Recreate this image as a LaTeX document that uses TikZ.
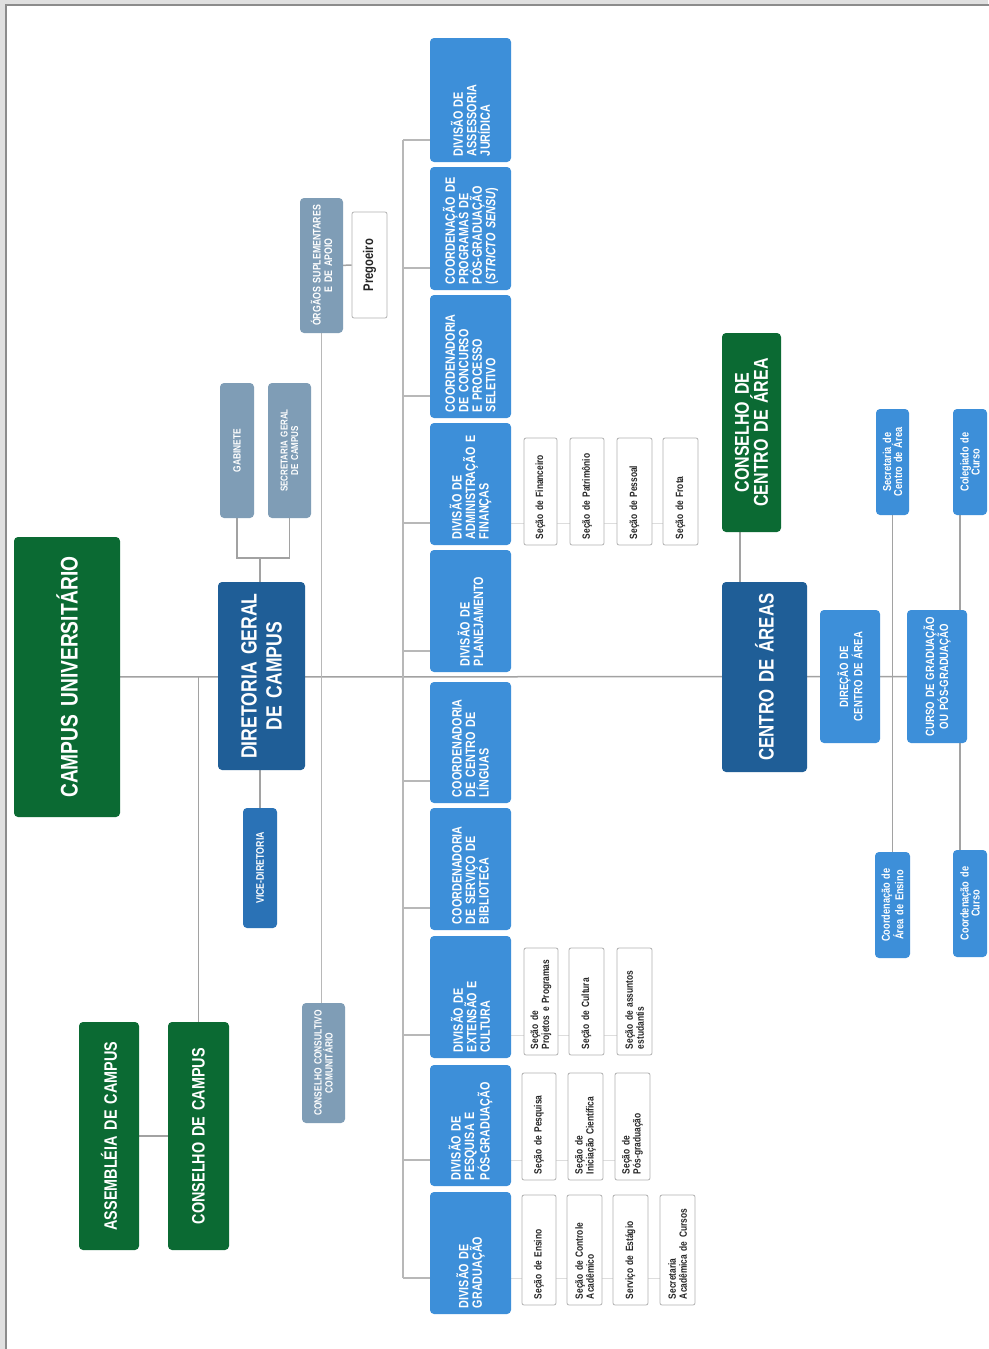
\documentclass[tikz,border=0pt]{standalone}
\usepackage{fontspec}
\setmainfont{Liberation Sans}
\newfontfamily\nar[FakeStretch=0.8]{Liberation Sans}
\usetikzlibrary{backgrounds}
\definecolor{cgreen}{HTML}{0B6A33}
\definecolor{cdblue}{HTML}{1F5E97}
\definecolor{ccol}{HTML}{3D8FD9}
\definecolor{cvice}{HTML}{2A72B6}
\definecolor{cgray}{HTML}{7F9DB6}
\definecolor{cline}{HTML}{A2A2A2}
\definecolor{cbus}{HTML}{B8B8B8}
\definecolor{cfaint}{HTML}{DDDDDD}
\newcommand{\fs}[2]{\nar\bfseries\fontsize{#1}{#2}\selectfont}
\newcommand{\obox}[7]{%
  \pgfmathsetmacro{\obw}{#6-#4}%
  \pgfmathsetmacro{\obh}{#5-#3}%
  \pgfmathsetmacro{\otw}{#6-#4-12}%
  \node[#1, rotate=90, minimum width=\obw pt, minimum height=\obh pt, text width=\otw pt] (#2) at ({(#3+#5)/2},{(#4+#6)/2}) {#7};}
\tikzset{
  base/.style={rounded corners=4pt, inner sep=0pt, text=white, align=center, font=\fs{12}{12.5}},
  grn/.style={base, fill=cgreen},
  dbl/.style={base, fill=cdblue},
  col/.style={base, fill=ccol, align=left, font=\fs{13.5}{13.5}},
  vic/.style={base, fill=cvice},
  gry/.style={base, fill=cgray},
  sbl/.style={base, fill=ccol, font=\fs{11.5}{11}},
  sec/.style={base, fill=white, draw=black!30, line width=0.8pt, text=black!85, align=left, font=\fs{10.5}{11}, rounded corners=2pt},
  conn/.style={draw=cline, line width=1.5pt},
  bus/.style={draw=cbus, line width=1.2pt},
  faint/.style={draw=cfaint, line width=1pt}
}
\begin{document}
\begin{tikzpicture}[x=1pt,y=-1pt]
\useasboundingbox (0,0) rectangle (988,1349);
% left part
\obox{grn,font=\fs{24}{26}}{campus}{14}{537}{120}{817}{CAMPUS UNIVERSITÁRIO}
\obox{grn,font=\fs{18}{20}}{assemb}{79}{1022}{139}{1250}{ASSEMBLÉIA DE CAMPUS}
\obox{grn,font=\fs{18}{20}}{ccampus}{168}{1022}{229}{1250}{CONSELHO DE CAMPUS}
\obox{dbl,font=\fs{22}{25}}{diret}{218}{582}{305}{770}{DIRETORIA GERAL\\DE CAMPUS}
\obox{vic,font=\fs{11}{12}}{vice}{243}{808}{277}{928}{VICE-DIRETORIA}
\obox{gry,font=\fs{10.5}{11}}{gab}{220}{383}{254}{518}{GABINETE}
\obox{gry,font=\fs{10}{10.5}}{secg}{268}{383}{311}{518}{SECRETARIA GERAL\\DE CAMPUS}
\obox{gry,font=\fs{11}{11.5}}{orgaos}{300}{198}{343}{333}{ÓRGÃOS SUPLEMENTARES\\E DE APOIO}
\obox{sec,align=center,font=\fs{14}{14}}{preg}{352}{212}{387}{318}{Pregoeiro}
\obox{gry,font=\fs{10.5}{11}}{consult}{302}{1003}{345}{1123}{CONSELHO CONSULTIVO\\COMUNITÁRIO}
% column
\obox{col}{jur}{430}{38}{511}{162}{DIVISÃO DE\\ASSESSORIA\\JURÍDICA}
\obox{col}{stricto}{430}{167}{511}{290}{COORDENAÇÃO DE\\PROGRAMAS DE\\PÓS-GRADUAÇÃO\\(\textit{STRICTO SENSU})}
\obox{col}{concurso}{430}{295}{511}{418}{COORDENADORIA\\DE CONCURSO\\E PROCESSO\\SELETIVO}
\obox{col}{admin}{430}{423}{511}{545}{DIVISÃO DE\\ADMINISTRAÇÃO E\\FINANÇAS}
\obox{col}{planej}{430}{550}{511}{672}{DIVISÃO DE\\PLANEJAMENTO}
\obox{col}{linguas}{430}{682}{511}{803}{COORDENADORIA\\DE CENTRO DE\\LÍNGUAS}
\obox{col}{biblio}{430}{808}{511}{930}{COORDENADORIA\\DE SERVIÇO DE\\BIBLIOTECA}
\obox{col}{extens}{430}{936}{511}{1058}{DIVISÃO DE\\EXTENSÃO E\\CULTURA}
\obox{col}{pesq}{430}{1065}{511}{1186}{DIVISÃO DE\\PESQUISA E\\PÓS-GRADUAÇÃO}
\obox{col}{grad}{430}{1192}{511}{1314}{DIVISÃO DE\\GRADUAÇÃO}
% secoes
\obox{sec}{sfin}{524}{438}{557}{545}{Seção de Financeiro}
\obox{sec}{spat}{570}{438}{604}{545}{Seção de Patrimônio}
\obox{sec}{spes}{617}{438}{652}{545}{Seção de Pessoal}
\obox{sec}{sfro}{663}{438}{698}{545}{Seção de Frota}
\obox{sec}{sproj}{524}{948}{558}{1055}{Seção de\\Projetos e Programas}
\obox{sec}{scult}{569}{948}{604}{1055}{Seção de Cultura}
\obox{sec}{sassu}{617}{948}{652}{1055}{Seção de assuntos\\estudantis}
\obox{sec}{spesq}{522}{1073}{556}{1180}{Seção de Pesquisa}
\obox{sec}{sinic}{568}{1073}{603}{1180}{Seção de\\Iniciação Científica}
\obox{sec}{spos}{615}{1073}{650}{1180}{Seção de\\Pós-graduação}
\obox{sec}{sens}{522}{1195}{556}{1305}{Seção de Ensino}
\obox{sec}{sctrl}{567}{1195}{602}{1305}{Seção de Controle\\Acadêmico}
\obox{sec}{sest}{613}{1195}{648}{1305}{Serviço de Estágio}
\obox{sec}{ssac}{660}{1195}{695}{1305}{Secretaria\\Acadêmica de Cursos}
% right part
\obox{dbl,font=\fs{21}{23}}{centro}{722}{582}{807}{772}{CENTRO DE ÁREAS}
\obox{grn,font=\fs{20}{19}}{ccarea}{722}{333}{781}{532}{CONSELHO DE\\CENTRO DE ÁREA}
\obox{sbl,font=\fs{12}{12.5}}{direcao}{820}{610}{880}{743}{DIREÇÃO DE\\CENTRO DE ÁREA}
\obox{sbl,font=\fs{12}{12.5}}{curso}{907}{610}{967}{743}{CURSO DE GRADUAÇÃO\\OU PÓS-GRADUAÇÃO}
\obox{sbl}{secca}{876}{409}{909}{515}{Secretaria de\\Centro de Área}
\obox{sbl}{coleg}{953}{409}{987}{515}{Colegiado de\\Curso}
\obox{sbl}{coordae}{875}{852}{910}{958}{Coordenação de\\Área de Ensino}
\obox{sbl}{coordc}{953}{850}{987}{957}{Coordenação de\\Curso}
\begin{scope}[on background layer]
\fill[black!12] (0,0) rectangle (988,1349);
\fill[white] (6,5) rectangle (995,1360);
\draw[black!45, line width=1.2pt] (6,1360) -- (6,5) -- (995,5);
\draw[conn] (campus) -- (curso);
\draw[conn] (ccampus) -- (ccampus |- campus);
\draw[conn] (assemb) -- (ccampus);
\draw[conn] (vice) -- (vice |- diret);
\coordinate (jn) at (260,558);
\draw[conn] (gab) |- (jn);
\draw[conn] (secg) |- (jn);
\draw[conn] (jn) -- (jn |- diret);
\draw[bus] (orgaos) -- (orgaos |- consult);
\draw[conn] (orgaos) -- (preg);
\coordinate (busT) at (403,140);
\coordinate (busB) at (403,1278);
\draw[bus] (busT) -- (busB);
\foreach \n/\y in {jur/140, stricto/268, concurso/396, admin/523, planej/651, linguas/781, biblio/908, extens/1035, pesq/1160, grad/1278}{
  \coordinate (st\n) at (403,\y);
  \draw[bus] (st\n) -- (st\n -| \n);
}
\draw[faint] (stadmin -| admin) -- (stadmin -| sfro);
\draw[faint] (stextens -| extens) -- (stextens -| sassu);
\draw[faint] (stpesq -| pesq) -- (stpesq -| spos);
\draw[faint] (stgrad -| grad) -- (stgrad -| ssac);
\coordinate (cca) at (740,540);
\draw[conn] (cca |- ccarea) -- (cca |- centro);
\draw[conn] (secca) -- (coordae);
\coordinate (cc) at (960,520);
\draw[conn] (cc |- coleg) -- (cc |- coordc);
\end{scope}
\end{tikzpicture}
\end{document}
